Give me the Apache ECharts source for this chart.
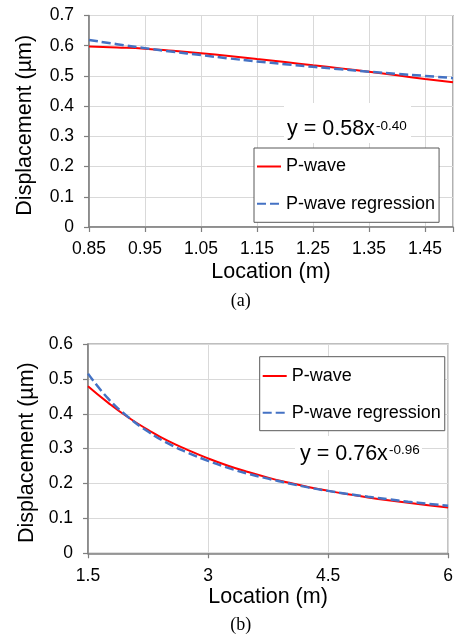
<!DOCTYPE html>
<html>
<head>
<meta charset="utf-8">
<script src="https://cdn.jsdelivr.net/npm/echarts@6/dist/echarts.min.js"></script>
<style>
html,body{margin:0;padding:0;background:#fff;}
#c{width:456px;height:635px;}
</style>
</head>
<body>
<div id="c"></div>
<script>
// ---- Chart (a) data ----
const xA = [0.85, 0.90, 0.95, 1.00, 1.05, 1.10, 1.15, 1.20, 1.25, 1.30, 1.35, 1.40, 1.45, 1.50];
const pwaveA = [0.597, 0.594, 0.590, 0.583, 0.575, 0.566, 0.556, 0.546, 0.535, 0.525, 0.514, 0.502, 0.490, 0.479];
const regA = [0.619, 0.605, 0.592, 0.580, 0.569, 0.558, 0.548, 0.539, 0.530, 0.522, 0.514, 0.507, 0.500, 0.493];
const xTicksA = [0.85, 0.95, 1.05, 1.15, 1.25, 1.35, 1.45];
const yTicksA = [0, 0.1, 0.2, 0.3, 0.4, 0.5, 0.6, 0.7];

// ---- Chart (b) data ----
const xB = [1.5, 1.75, 2.0, 2.25, 2.5, 2.75, 3.0, 3.25, 3.5, 3.75, 4.0, 4.25, 4.5, 4.75, 5.0, 5.25, 5.5, 5.75, 6.0];
const pwaveB = [0.479, 0.432, 0.390, 0.354, 0.322, 0.296, 0.272, 0.251, 0.233, 0.217, 0.203, 0.190, 0.179, 0.169, 0.160, 0.152, 0.145, 0.138, 0.131];
const regB = [0.515, 0.444, 0.391, 0.349, 0.315, 0.288, 0.265, 0.245, 0.228, 0.214, 0.201, 0.189, 0.179, 0.170, 0.162, 0.155, 0.148, 0.142, 0.136];
const xTicksB = [1.5, 3, 4.5, 6];
const yTicksB = [0, 0.1, 0.2, 0.3, 0.4, 0.5, 0.6];

const eqA = {main: 'y = 0.58x', sup: '-0.40'};
const eqB = {main: 'y = 0.76x', sup: '-0.96'};
const seriesNames = ['P-wave', 'P-wave regression'];

const FONT = 'Liberation Sans, Arial, sans-serif';
const pair = (xs, ys) => xs.map((x, i) => [x, ys[i]]);

function xAxisCfg(gi, ticks, fmt, max, gap) {
  return {
    type: 'value', gridIndex: gi,
    min: ticks[0], max: max, interval: ticks[1] - ticks[0],
    name: 'Location (m)', nameLocation: 'middle', nameGap: gap,
    nameTextStyle: {fontFamily: FONT, fontSize: 21.5, color: '#000'},
    axisLine: {show: true, onZero: false, lineStyle: {color: '#7f7f7f', width: 1.5}},
    axisTick: {show: true, length: 5, lineStyle: {color: '#7f7f7f', width: 1.2}},
    axisLabel: {fontFamily: FONT, fontSize: 17.5, color: '#000', margin: 13.5,
      formatter: function (v) {
        const hit = ticks.some(t => Math.abs(t - v) < 1e-6);
        return hit ? fmt(v) : '';
      }},
    splitLine: {show: true, lineStyle: {color: '#d9d9d9', width: 1}}
  };
}
function yAxisCfg(gi, ticks, gap) {
  return {
    type: 'value', gridIndex: gi,
    min: ticks[0], max: ticks[ticks.length - 1], interval: ticks[1] - ticks[0],
    name: 'Displacement (µm)', nameLocation: 'middle', nameGap: gap,
    nameTextStyle: {fontFamily: FONT, fontSize: 21.5, color: '#000', padding: [0, 8, 0, 0]},
    axisLine: {show: true, lineStyle: {color: '#7f7f7f', width: 1.5}},
    axisTick: {show: true, length: 5, lineStyle: {color: '#7f7f7f', width: 1.2}},
    axisLabel: {fontFamily: FONT, fontSize: 17.5, color: '#000', margin: 15,
      formatter: v => String(Math.round(v * 10) / 10)},
    splitLine: {show: true, lineStyle: {color: '#d9d9d9', width: 1}}
  };
}
function lineSeries(name, xi, data, dashed) {
  return {
    type: 'line', name: name, xAxisIndex: xi, yAxisIndex: xi,
    data: data, symbol: 'none', showSymbol: false, smooth: true, z: dashed ? 3 : 2,
    lineStyle: dashed ? {color: '#4472c4', width: 2.5, type: [9, 4]} : {color: '#ff0000', width: 2},
    itemStyle: {color: dashed ? '#4472c4' : '#ff0000'}
  };
}
function legendCfg(left, top, padding, gap) {
  return {
    data: seriesNames, orient: 'vertical', left: left, top: top,
    padding: padding, itemGap: gap, itemWidth: 24, itemHeight: 18,
    backgroundColor: '#fff', borderColor: '#595959', borderWidth: 1, borderRadius: 0,
    itemStyle: {opacity: 0},
    textStyle: {fontFamily: FONT, fontSize: 18, color: '#000'},
    selectedMode: false
  };
}

const chart = echarts.init(document.getElementById('c'), null, {renderer: 'canvas'});
chart.setOption({
  backgroundColor: '#fff',
  animation: false,
  grid: [
    {left: 89, top: 15.5, width: 365.5, height: 211.5, show: true, borderColor: '#7f7f7f', borderWidth: 1.2, containLabel: false},
    {left: 88, top: 344, width: 363.3, height: 209.3, show: true, borderColor: '#7f7f7f', borderWidth: 1.2, containLabel: false}
  ],
  xAxis: [
    xAxisCfg(0, xTicksA, v => v.toFixed(2), 1.5, 34),
    xAxisCfg(1, xTicksB, v => String(v), 6, 33)
  ],
  yAxis: [
    yAxisCfg(0, yTicksA, 53),
    yAxisCfg(1, yTicksB, 49)
  ],
  legend: [
    legendCfg(254, 148, [9.5, 4, 9.5, 2], 19.3),
    legendCfg(259.7, 356.7, [10.3, 4, 9, 2], 18.7)
  ],
  series: [
    lineSeries(seriesNames[0], 0, pair(xA, pwaveA), false),
    lineSeries(seriesNames[1], 0, pair(xA, regA), true),
    lineSeries(seriesNames[0], 1, pair(xB, pwaveB), false),
    lineSeries(seriesNames[1], 1, pair(xB, regB), true)
  ],
  graphic: [
    {type: 'rect', z: 5, shape: {x: 284, y: 103, width: 127, height: 40}, style: {fill: '#fff'}},
    {type: 'text', z: 6, x: 287, y: 129, style: {text: eqA.main, font: '21.5px ' + FONT, fill: '#000', textVerticalAlign: 'middle', textAlign: 'left'}},
    {type: 'text', z: 6, x: 376, y: 126.7, style: {text: eqA.sup, font: '13.5px ' + FONT, fill: '#000', textVerticalAlign: 'middle', textAlign: 'left'}},
    {type: 'rect', z: 5, shape: {x: 295, y: 436, width: 127, height: 34}, style: {fill: '#fff'}},
    {type: 'text', z: 6, x: 300, y: 454, style: {text: eqB.main, font: '21.5px ' + FONT, fill: '#000', textVerticalAlign: 'middle', textAlign: 'left'}},
    {type: 'text', z: 6, x: 389, y: 450, style: {text: eqB.sup, font: '13.5px ' + FONT, fill: '#000', textVerticalAlign: 'middle', textAlign: 'left'}},
    {type: 'text', x: 240.7, y: 301.7, style: {text: '(a)', font: '18px Liberation Serif, Times New Roman, serif', fill: '#000', textVerticalAlign: 'middle', textAlign: 'center'}},
    {type: 'text', x: 240.7, y: 625, style: {text: '(b)', font: '18px Liberation Serif, Times New Roman, serif', fill: '#000', textVerticalAlign: 'middle', textAlign: 'center'}}
  ]
});
</script>
</body>
</html>
